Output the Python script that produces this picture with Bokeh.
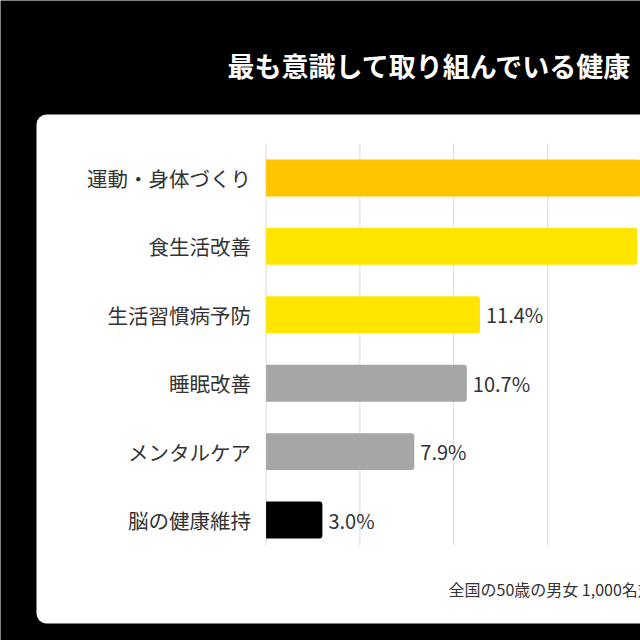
from bokeh.plotting import figure
from bokeh.models import Range1d, Label, ColumnDataSource
from bokeh.core.properties import value
from bokeh.embed import file_html
from bokeh.resources import INLINE

# ---- data ----
categories = ["運動・身体づくり", "食生活改善", "生活習慣病予防", "睡眠改善", "メンタルケア", "脳の健康維持"]
values = [27.0, 19.8, 11.4, 10.7, 7.9, 3.0]
colors = ["#FFC400", "#FFE600", "#FFE600", "#A6A6A6", "#A6A6A6", "#000000"]
grid_ticks = [0, 5, 10, 15, 20]
title_text = "最も意識して取り組んでいる健康"
note_text = "全国の50歳の男女 1,000名対象"

# ---- layout (pixel geometry) ----
W = H = 640
X0_PX = 265.6      # pixel of 0 %
PX_PER_PCT = 18.76
Y0_PX = 177.5      # pixel centre of first row
PX_PER_ROW = 68.4


def dx(px):
    return (px - X0_PX) / PX_PER_PCT


def dy(py):
    return (py - Y0_PX) / PX_PER_ROW


FONT = "Noto Sans CJK JP"

p = figure(width=W, height=H, output_backend="svg", toolbar_location=None,
           min_border=0, x_axis_location=None, y_axis_location=None,
           x_range=Range1d(dx(0), dx(W)), y_range=Range1d(dy(H), dy(0)),
           background_fill_color="black", border_fill_color="black",
           outline_line_color=None)
p.grid.visible = False

# white card
p.quad(left=dx(36), right=dx(720), top=dy(114), bottom=dy(623),
       fill_color="white", line_color=None, border_radius=10)

# grid lines
n = len(grid_ticks)
p.segment(x0=grid_ticks, x1=grid_ticks, y0=[dy(143)] * n, y1=[dy(545)] * n,
          line_color="#dcdcdc", line_width=1)

ys = list(range(len(categories)))
src = ColumnDataSource(dict(y=ys, v=values, c=colors, cat=categories))

p.hbar(y="y", left=0, right="v", height=0.54, fill_color="c", line_color=None,
       border_radius=(0, 3, 3, 0), source=src)

# category labels
p.text(x=0, y="y", text="cat", source=src, x_offset=-15, text_align="right",
       text_baseline="middle", text_font=value(FONT), text_font_size="20.5px",
       text_color="#333333")

# value labels (only those that fall inside the visible area, as in the reference)
x_max = dx(W)
vis = [(y, v) for y, v in zip(ys, values) if v + 3.5 < x_max]
lab_src = ColumnDataSource(dict(y=[a for a, _ in vis], v=[b for _, b in vis],
                                lab=[f"{b:.1f}%" for _, b in vis]))
p.text(x="v", y="y", text="lab", source=lab_src, x_offset=6, text_align="left",
       text_baseline="middle", text_font=value(FONT), text_font_size="20px",
       text_color="#333333")

p.add_layout(Label(x=dx(227), y=dy(65), text=title_text, text_color="white",
                   text_font=FONT, text_font_size="27px", text_font_style="bold",
                   text_baseline="middle", text_align="left"))

p.add_layout(Label(x=dx(448), y=dy(588), text=note_text, text_color="#333333",
                   text_font=FONT, text_font_size="16px",
                   text_baseline="middle", text_align="left"))

open("out.html", "w").write(file_html(p, INLINE))
